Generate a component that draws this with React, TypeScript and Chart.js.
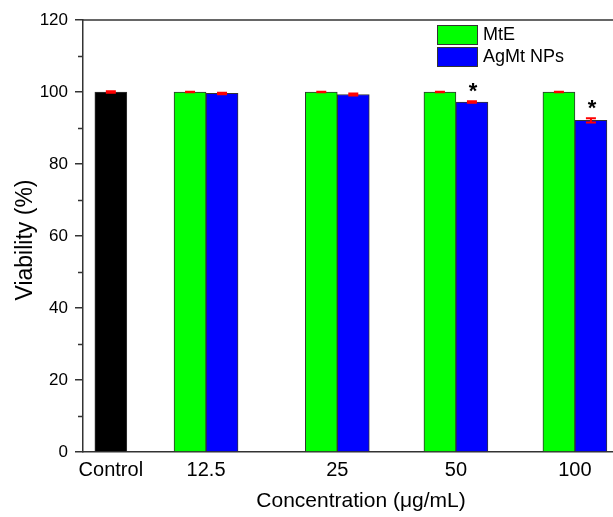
import { useEffect, useRef } from 'react';
import { Chart, registerables } from 'chart.js';

Chart.register(...registerables);

const categories = ['Control', '12.5', '25', '50', '100'];
const categoryPositions = [0.234, 1.034, 2.137, 3.134, 4.134];
const xAxisMax = 4.454;

const controlValues = [100];
const controlErrors = [0.2];
const mteValues = [100, 100, 100, 100];
const mteErrors = [0.1, 0.1, 0.1, 0.1];
const agmtValues = [99.6, 99.3, 97.2, 92.1];
const agmtErrors = [0.2, 0.25, 0.2, 0.6];
const agmtMarks = ['', '', '*', '*'];

const yMin = 0;
const yMax = 120;
const yStep = 20;
const yMinorTicks = [10, 30, 50, 70, 90, 110];

const FONT = "'Liberation Sans', Arial, sans-serif";
const AXIS = '#333333';

const controlSeries = categoryPositions.map((x, i) => ({ x, y: i === 0 ? controlValues[0] : null }));
const mteSeries = categoryPositions.map((x, i) => ({ x, y: i === 0 ? null : mteValues[i - 1] }));
const agmtSeries = categoryPositions.map((x, i) => ({ x, y: i === 0 ? null : agmtValues[i - 1] }));
const controlErrSeries = categoryPositions.map((_, i) => (i === 0 ? controlErrors[0] : null));
const mteErrSeries = categoryPositions.map((_, i) => (i === 0 ? null : mteErrors[i - 1]));
const agmtErrSeries = categoryPositions.map((_, i) => (i === 0 ? null : agmtErrors[i - 1]));
const agmtMarkSeries = categoryPositions.map((_, i) => (i === 0 ? '' : agmtMarks[i - 1]));

const decorations = {
  id: 'decorations',
  afterDatasetsDraw(chart: any) {
    const { ctx, scales } = chart;
    const y = scales.y;
    ctx.save();
    chart.data.datasets.forEach((ds: any, di: number) => {
      const meta = chart.getDatasetMeta(di);
      meta.data.forEach((el: any, j: number) => {
        const v = ds.data[j].y;
        const e = ds.errors ? ds.errors[j] : null;
        if (v == null || e == null) return;
        const cx = el.x;
        const top = y.getPixelForValue(v + e);
        const bot = y.getPixelForValue(v - e);
        ctx.strokeStyle = '#ff0000';
        ctx.lineWidth = 2;
        ctx.beginPath();
        ctx.moveTo(cx, top);
        ctx.lineTo(cx, bot);
        ctx.moveTo(cx - 5, top);
        ctx.lineTo(cx + 5, top);
        ctx.moveTo(cx - 5, bot);
        ctx.lineTo(cx + 5, bot);
        ctx.stroke();
        const mark = ds.marks ? ds.marks[j] : '';
        if (mark) {
          ctx.fillStyle = '#000';
          ctx.font = `bold 22px ${FONT}`;
          ctx.textAlign = 'center';
          ctx.textBaseline = 'alphabetic';
          ctx.fillText(mark, cx + 1, top - 3);
        }
      });
    });
    ctx.restore();
  },
  afterDraw(chart: any) {
    const { ctx, chartArea: ca, scales } = chart;
    const y = scales.y;
    ctx.save();
    // top frame line
    ctx.strokeStyle = AXIS;
    ctx.lineWidth = 1.5;
    ctx.beginPath();
    ctx.moveTo(ca.left, ca.top);
    ctx.lineTo(ca.right, ca.top);
    ctx.stroke();
    // minor ticks
    ctx.beginPath();
    yMinorTicks.forEach((v) => {
      const py = Math.round(y.getPixelForValue(v)) + 0.5;
      ctx.moveTo(ca.left - 5, py);
      ctx.lineTo(ca.left, py);
    });
    ctx.stroke();
    // legend
    const lx = ca.left + 354;
    let ly = ca.top + 5;
    const items = chart.data.datasets.filter((d: any) => d.inLegend);
    items.forEach((d: any) => {
      ctx.fillStyle = d.backgroundColor;
      ctx.fillRect(lx, ly, 40, 19);
      ctx.strokeStyle = AXIS;
      ctx.lineWidth = 1;
      ctx.strokeRect(lx + 0.5, ly + 0.5, 40, 19);
      ctx.fillStyle = '#000';
      ctx.font = `18px ${FONT}`;
      ctx.textAlign = 'left';
      ctx.textBaseline = 'middle';
      ctx.fillText(d.label, lx + 46, ly + 10.5);
      ly += 22;
    });
    // axis titles
    ctx.fillStyle = '#000';
    ctx.font = `21px ${FONT}`;
    ctx.textAlign = 'center';
    ctx.textBaseline = 'alphabetic';
    ctx.fillText('Concentration (\u03bcg/mL)', 361, 507);
    ctx.translate(32, (ca.top + ca.bottom) / 2 + 4);
    ctx.rotate(-Math.PI / 2);
    ctx.font = `23px ${FONT}`;
    ctx.fillText('Viability (%)', 0, 0);
    ctx.restore();
  },
};

export default function App() {
  const ref = useRef<HTMLCanvasElement>(null);
  useEffect(() => {
    if (!ref.current) return;
    const chart = new Chart(ref.current, {
      type: 'bar',
      data: {
        datasets: [
          {
            label: 'Control',
            data: controlSeries,
            backgroundColor: '#000000',
            borderColor: AXIS,
            borderWidth: 1,
            errors: controlErrSeries,
            inLegend: false,
          } as any,
          {
            label: 'MtE',
            data: mteSeries,
            backgroundColor: '#00ff00',
            borderColor: AXIS,
            borderWidth: 1,
            errors: mteErrSeries,
            inLegend: true,
          } as any,
          {
            label: 'AgMt NPs',
            data: agmtSeries,
            backgroundColor: '#0000ff',
            borderColor: AXIS,
            borderWidth: 1,
            errors: agmtErrSeries,
            marks: agmtMarkSeries,
            inLegend: true,
          } as any,
        ],
      },
      options: {
        animation: false,
        responsive: false,
        devicePixelRatio: 1,
        skipNull: true,
        barThickness: 32,
        layout: { padding: { top: 20, right: 0, left: 0, bottom: 0 } },
        plugins: { legend: { display: false }, tooltip: { enabled: false } },
        scales: {
          x: {
            type: 'linear',
            min: 0,
            max: xAxisMax,
            offset: false,
            afterBuildTicks: (scale: any) => {
              scale.ticks = categoryPositions.map((v) => ({ value: v }));
            },
            afterFit: (scale: any) => {
              scale.height = 65;
            },
            grid: { display: false, drawTicks: false, offset: false },
            border: { display: true, color: AXIS, width: 1.5 },
            ticks: {
              autoSkip: false,
              maxRotation: 0,
              padding: 6,
              color: '#000',
              font: { family: FONT, size: 20 },
              callback: (_v: any, i: number) => categories[i],
            },
          },
          y: {
            min: yMin,
            max: yMax,
            afterFit: (scale: any) => {
              scale.width = 83;
            },
            grid: { drawOnChartArea: false, drawTicks: true, tickLength: 8, color: AXIS, lineWidth: 1.5 },
            border: { display: true, color: AXIS, width: 1.5 },
            ticks: {
              stepSize: yStep,
              padding: 7,
              color: '#000',
              font: { family: FONT, size: 17 },
            },
          },
        },
      } as any,
      plugins: [decorations],
    });
    return () => chart.destroy();
  }, []);
  return (
    <div style={{ position: 'fixed', left: 0, top: 0, width: 613, height: 517 }}>
      <canvas ref={ref} width={613} height={517} />
    </div>
  );
}
